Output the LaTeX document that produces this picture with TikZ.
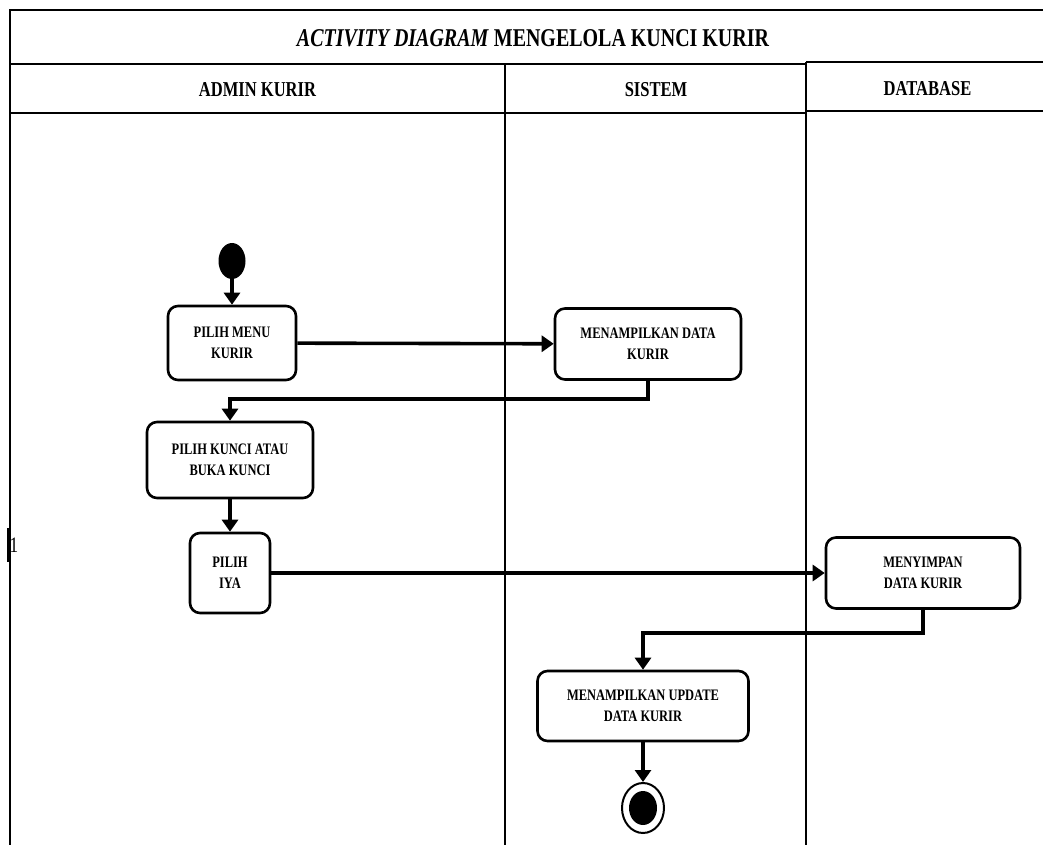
\documentclass[tikz,border=0pt]{standalone}
\usepackage{fontspec}
\setmainfont{Liberation Serif}[FakeStretch=0.78]
\usetikzlibrary{positioning,arrows.meta,shapes.geometric}

\begin{document}
\begin{tikzpicture}[
  x=0.5pt, y=-0.5pt,
  font=\bfseries\fontsize{8}{10.6}\selectfont,
  act/.style 2 args={draw, line width=1.3pt, rounded corners=5pt, align=center,
    inner sep=2pt, minimum width=#1, minimum height=#2},
  hdr/.style={font=\bfseries\fontsize{10.6}{12}\selectfont, inner sep=0pt},
  lane/.style={line width=1pt},
  arr/.style={-{Triangle[length=6pt,width=8pt]}, line width=1.8pt},
  startdot/.style={ellipse, fill=black, inner sep=0pt, minimum width=13.5pt, minimum height=18pt},
  stopring/.style={ellipse, draw, line width=1pt, inner sep=0pt, minimum width=21pt, minimum height=25pt},
]
\useasboundingbox (0,0) rectangle (1043,845);
% swimlanes
\draw[lane] (10,845) |- (1043,10);
\draw[lane] (10,64) -- (806,64);
\draw[lane] (806,62) -- (1043,62);
\draw[lane] (10,113) -- (806,113);
\draw[lane] (806,111) -- (1043,111);
\draw[lane] (505,64) -- (505,845);
\draw[lane] (806,62) -- (806,845);
\draw[line width=2pt] (9,528) -- (9,562);
\node[font=\fontsize{11}{12}\selectfont, inner sep=0pt] (mark) at (14,545) {1};
% headers
\node[hdr, font=\bfseries\fontsize{12.8}{14}\selectfont] (title) at (533,38.5) {\textit{ACTIVITY DIAGRAM} MENGELOLA KUNCI KURIR};
\node[hdr] (admin) at (257.5,89.5) {ADMIN KURIR};
\node[hdr] (sistem) at (656,89.5) {SISTEM};
\node[hdr] (db) at (927.5,88.5) {DATABASE};
% activities
\node[startdot] (start) at (232,261) {};
\node[act={64pt}{37pt}] (pmenu) at (232,343) {PILIH MENU\\KURIR};
\node[act={93pt}{35.5pt}] (tampil) at (648,344) {MENAMPILKAN DATA\\KURIR};
\node[act={83pt}{38pt}] (pkunci) at (230,460) {PILIH KUNCI ATAU\\BUKA KUNCI};
\node[act={40pt}{40pt}] (piya) at (230,573) {PILIH\\IYA};
\node[act={97pt}{35.5pt}] (simpan) at (923,573) {MENYIMPAN\\DATA KURIR};
\node[act={105.5pt}{35pt}] (update) at (643,706) {MENAMPILKAN UPDATE\\DATA KURIR};
\node[stopring] (stop) at (643,808) {};
\node[startdot, minimum width=14pt, minimum height=17pt] (stopdot) at (stop) {};
% edges
\draw[arr] (start) -- (pmenu);
\draw[arr] (pmenu) -- (tampil);
\draw[arr] (tampil.south) -- ++(0,18) -| (pkunci.north);
\draw[arr] (pkunci) -- (piya);
\draw[arr] (piya) -- (simpan);
\draw[arr] (simpan.south) -- ++(0,23) -| (update.north);
\draw[arr] (update) -- (stop);
\end{tikzpicture}
\end{document}
